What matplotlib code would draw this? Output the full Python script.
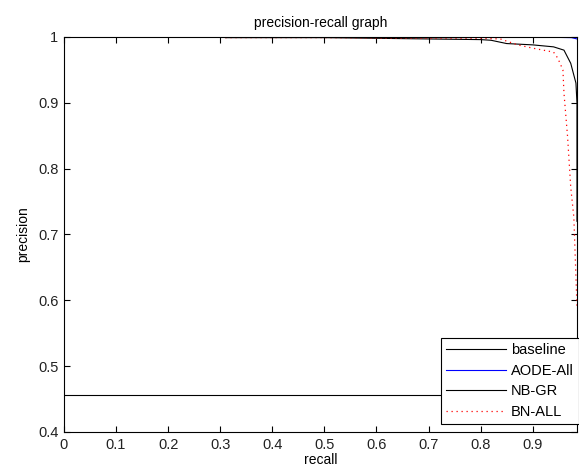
import matplotlib
matplotlib.use('Agg')
import matplotlib.pyplot as plt
import numpy as np

# data
base_x = [0.0, 1.0]
base_y = [0.456, 0.456]

aode_x = [0.31, 0.6, 0.9, 0.975, 0.985]
aode_y = [1.0, 1.0, 1.0, 0.999, 0.997]

nb_x = [0.31, 0.5, 0.6, 0.7, 0.8, 0.82, 0.85, 0.9, 0.94, 0.96, 0.973, 0.983, 0.985, 0.985]
nb_y = [0.999, 0.999, 0.998, 0.997, 0.996, 0.995, 0.99, 0.988, 0.985, 0.98, 0.96, 0.93, 0.9, 0.72]

bn_x = [0.31, 0.5, 0.7, 0.8, 0.838, 0.871, 0.9, 0.94, 0.948, 0.958, 0.96, 0.967, 0.973, 0.979, 0.985]
bn_y = [0.999, 0.999, 0.998, 0.998, 0.997, 0.988, 0.983, 0.977, 0.968, 0.95, 0.915, 0.848, 0.772, 0.726, 0.59]

xticks = [0, 0.1, 0.2, 0.3, 0.4, 0.5, 0.6, 0.7, 0.8, 0.9]
xticklabels = ['0', '0.1', '0.2', '0.3', '0.4', '0.5', '0.6', '0.7', '0.8', '0.9']
yticks = [0.4, 0.5, 0.6, 0.7, 0.8, 0.9, 1.0]
yticklabels = ['0.4', '0.5', '0.6', '0.7', '0.8', '0.9', '1']

plt.rcParams['font.family'] = ['Liberation Sans', 'DejaVu Sans']
plt.rcParams['font.size'] = 10

fig = plt.figure(figsize=(5.79, 4.68), dpi=100)
ax = fig.add_axes([0.1105, 0.077, 0.886, 0.844])

ax.plot(base_x, base_y, color='black', lw=0.8, label='baseline')
ax.plot(aode_x, aode_y, color='blue', lw=0.8, label='AODE-All')
ax.plot(nb_x, nb_y, color='black', lw=0.8, label='NB-GR')
ax.plot(bn_x, bn_y, color='red', lw=0.9, ls=(0, (1, 3)), label='BN-ALL')

ax.set_xlim(0, 0.985)
ax.set_ylim(0.4, 1.0)
ax.set_xticks(xticks)
ax.set_xticklabels(xticklabels)
ax.set_yticks(yticks)
ax.set_yticklabels(yticklabels)
ax.tick_params(direction='in', length=4, width=0.8, top=True, right=True,
               labelsize=10.5, colors='black', labelcolor='#222222')
ax.tick_params(axis='x', pad=4)
ax.tick_params(axis='y', pad=4)
for s in ax.spines.values():
    s.set_linewidth(0.8)

ax.set_title('precision-recall graph', fontsize=10, pad=7)
ax.set_xlabel('recall', fontsize=10, labelpad=1)
ax.set_ylabel('precision', fontsize=10, labelpad=6)

leg = ax.legend(loc='lower right', bbox_to_anchor=(1.0, 0.077 + 8 / 468),
                bbox_transform=fig.transFigure,
                fontsize=10.5, frameon=True, fancybox=False,
                edgecolor='black', framealpha=1, borderpad=0.35, labelspacing=0.45,
                handlelength=4.1, handletextpad=0.35, borderaxespad=0.0)
leg.get_frame().set_linewidth(0.8)

fig.savefig('out.png', dpi=100)
